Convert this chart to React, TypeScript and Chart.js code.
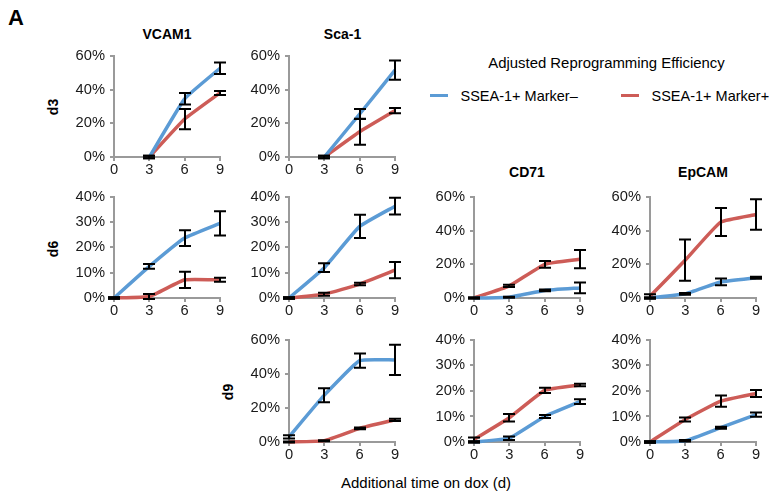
import React, { useEffect, useRef } from "react";
import { Chart, registerables } from "chart.js";

Chart.register(...registerables);

// ---------- data ----------
const days = [0, 3, 6, 9];
const seriesNames = ["SSEA-1+ Marker–", "SSEA-1+ Marker+"];
const legendTitle = "Adjusted Reprogramming Efficiency";
const xAxisTitle = "Additional time on dox (d)";
const markerTitles = ["VCAM1", "Sca-1", "CD71", "EpCAM"];
const rowLabels = ["d3", "d6", "d9"];

// d3
const vcam1D3Neg = [null, 0, 34.5, 52.6];
const vcam1D3NegErr = [0, 0.8, 3.4, 3.4];
const vcam1D3Pos = [null, 0, 22.5, 38];
const vcam1D3PosErr = [0, 0.8, 6, 1.2];

const sca1D3Neg = [null, 0, 25.5, 51.5];
const sca1D3NegErr = [0, 0.8, 3, 5.7];
const sca1D3Pos = [null, 0, 15, 27.5];
const sca1D3PosErr = [0, 0.8, 7.7, 1.5];

// d6
const vcam1D6Neg = [0, 12.5, 23.7, 29.5];
const vcam1D6NegErr = [0.3, 0.9, 3.1, 4.8];
const vcam1D6Pos = [0, 0.6, 7.2, 7.2];
const vcam1D6PosErr = [0.3, 1.0, 3.2, 0.8];

const sca1D6Neg = [0, 12, 28.3, 36.3];
const sca1D6NegErr = [0.3, 1.7, 4.6, 3.3];
const sca1D6Pos = [0, 1.5, 5.5, 11];
const sca1D6PosErr = [0.3, 0.6, 0.5, 3.2];

const cd71D6Neg = [0, 0.5, 4.5, 6];
const cd71D6NegErr = [0.3, 0.3, 0.5, 3.2];
const cd71D6Pos = [0, 7.2, 20, 23];
const cd71D6PosErr = [0.3, 0.7, 2, 5.4];

const epcamD6Neg = [0, 2.5, 9.5, 12];
const epcamD6NegErr = [0.5, 0.5, 2, 0.6];
const epcamD6Pos = [1, 22.5, 45, 49.5];
const epcamD6PosErr = [1.2, 12.2, 8.3, 9];

// d9
const sca1D9Neg = [3, 27.5, 47.8, 48.2];
const sca1D9NegErr = [1, 4.1, 4.2, 8.9];
const sca1D9Pos = [0, 0.8, 8, 13];
const sca1D9PosErr = [0.3, 0.3, 0.5, 0.7];

const cd71D9Neg = [0, 1.5, 10, 15.8];
const cd71D9NegErr = [0.3, 0.7, 0.6, 0.9];
const cd71D9Pos = [1, 9.5, 20.2, 22.3];
const cd71D9PosErr = [0.8, 1.5, 1, 0.5];

const epcamD9Neg = [0, 0.5, 5.6, 10.7];
const epcamD9NegErr = [0.3, 0.3, 0.4, 0.8];
const epcamD9Pos = [0, 8.8, 16, 19];
const epcamD9PosErr = [0.3, 0.8, 2.2, 1.4];

// ---------- layout / style ----------
const BLUE = "#5B9BD5";
const RED = "#CD5C57";
const AXIS = "#9a9a9a";
const TEXT = "#1a1a1a";
const FONT = "'Liberation Sans', Arial, sans-serif";
const TICK_SIZE = 14.7;

Chart.defaults.font.family = FONT;
Chart.defaults.font.size = TICK_SIZE;
Chart.defaults.color = TEXT;

const colX = [114, 289, 474, 650];
const rowTop = [52, 193, 336];
const PLOT_W = 106;
const PLOT_H = [105, 105, 106];
const Y_W = 50;
const PAD_T = 10;
const PAD_R = 10;
const X_H = 24;

type PanelDef = {
  col: number;
  row: number;
  max: number;
  step: number;
  neg: (number | null)[];
  negErr: number[];
  pos: (number | null)[];
  posErr: number[];
};

const panels: PanelDef[] = [
  { col: 0, row: 0, max: 60, step: 20, neg: vcam1D3Neg, negErr: vcam1D3NegErr, pos: vcam1D3Pos, posErr: vcam1D3PosErr },
  { col: 1, row: 0, max: 60, step: 20, neg: sca1D3Neg, negErr: sca1D3NegErr, pos: sca1D3Pos, posErr: sca1D3PosErr },
  { col: 0, row: 1, max: 40, step: 10, neg: vcam1D6Neg, negErr: vcam1D6NegErr, pos: vcam1D6Pos, posErr: vcam1D6PosErr },
  { col: 1, row: 1, max: 40, step: 10, neg: sca1D6Neg, negErr: sca1D6NegErr, pos: sca1D6Pos, posErr: sca1D6PosErr },
  { col: 2, row: 1, max: 60, step: 20, neg: cd71D6Neg, negErr: cd71D6NegErr, pos: cd71D6Pos, posErr: cd71D6PosErr },
  { col: 3, row: 1, max: 60, step: 20, neg: epcamD6Neg, negErr: epcamD6NegErr, pos: epcamD6Pos, posErr: epcamD6PosErr },
  { col: 1, row: 2, max: 60, step: 20, neg: sca1D9Neg, negErr: sca1D9NegErr, pos: sca1D9Pos, posErr: sca1D9PosErr },
  { col: 2, row: 2, max: 40, step: 10, neg: cd71D9Neg, negErr: cd71D9NegErr, pos: cd71D9Pos, posErr: cd71D9PosErr },
  { col: 3, row: 2, max: 40, step: 10, neg: epcamD9Neg, negErr: epcamD9NegErr, pos: epcamD9Pos, posErr: epcamD9PosErr },
];

const errorBarPlugin = {
  id: "errorBars",
  afterDatasetsDraw(chart: any) {
    const ctx = chart.ctx;
    const xs = chart.scales.x;
    const ys = chart.scales.y;
    ctx.save();
    ctx.strokeStyle = "#000";
    ctx.lineWidth = 2;
    chart.data.datasets.forEach((ds: any) => {
      const errs: number[] = ds.errors || [];
      ds.data.forEach((pt: any, j: number) => {
        if (pt.y === null || pt.y === undefined) return;
        const e = errs[j] || 0;
        const x = Math.round(xs.getPixelForValue(pt.x));
        const yHi = ys.getPixelForValue(pt.y + e);
        const yLo = ys.getPixelForValue(pt.y - e);
        ctx.beginPath();
        ctx.moveTo(x, yHi);
        ctx.lineTo(x, yLo);
        ctx.moveTo(x - 6, yHi);
        ctx.lineTo(x + 6, yHi);
        ctx.moveTo(x - 6, yLo);
        ctx.lineTo(x + 6, yLo);
        ctx.stroke();
      });
    });
    ctx.restore();
  },
};

function Panel({ p }: { p: PanelDef }) {
  const ref = useRef<HTMLCanvasElement>(null);
  const w = Y_W + PLOT_W + PAD_R;
  const h = PAD_T + PLOT_H[p.row] + X_H;
  useEffect(() => {
    if (!ref.current) return;
    const mk = (vals: (number | null)[], errs: number[], color: string, label: string) => ({
      label,
      data: days.map((d, i) => ({ x: d, y: vals[i] })),
      borderColor: color,
      backgroundColor: color,
      borderWidth: 3.5,
      pointRadius: 0,
      tension: 0.12,
      clip: false,
      errors: errs,
    });
    const font = { family: FONT, size: TICK_SIZE };
    const chart = new Chart(ref.current, {
      type: "line",
      data: {
        datasets: [
          mk(p.neg, p.negErr, BLUE, seriesNames[0]) as any,
          mk(p.pos, p.posErr, RED, seriesNames[1]) as any,
        ],
      },
      options: {
        responsive: false,
        animation: false,
        events: [],
        layout: { padding: { top: PAD_T, right: PAD_R, left: 0, bottom: 0 } },
        plugins: { legend: { display: false }, tooltip: { enabled: false } },
        scales: {
          x: {
            type: "linear",
            min: 0,
            max: 9,
            ticks: { stepSize: 3, font, color: TEXT, padding: 0, maxRotation: 0 },
            grid: { display: true, drawOnChartArea: false, drawTicks: true, tickLength: 4, color: AXIS, lineWidth: 2 },
            border: { display: true, color: AXIS, width: 2 },
            afterFit(s: any) {
              s.height = X_H;
            },
          },
          y: {
            min: 0,
            max: p.max,
            ticks: { stepSize: p.step, font, color: TEXT, padding: 5, callback: (v: any) => v + "%" },
            grid: { display: true, drawOnChartArea: false, drawTicks: true, tickLength: 4, color: AXIS, lineWidth: 2 },
            border: { display: true, color: AXIS, width: 2 },
            afterFit(s: any) {
              s.width = Y_W;
            },
          },
        },
      } as any,
      plugins: [errorBarPlugin],
    });
    return () => chart.destroy();
  }, []);
  return (
    <canvas
      ref={ref}
      width={w}
      height={h}
      style={{ position: "absolute", left: colX[p.col] - Y_W, top: rowTop[p.row] - PAD_T, width: w, height: h }}
    />
  );
}

const textBase: React.CSSProperties = {
  position: "absolute",
  fontFamily: FONT,
  color: "#000",
  lineHeight: 1,
  whiteSpace: "nowrap",
  transform: "translate(-50%, -50%)",
};

export default function App() {
  const titlePos = [
    { x: 167, y: 33.5 },
    { x: 342.5, y: 33.5 },
    { x: 527, y: 172 },
    { x: 703, y: 172 },
  ];
  const rowLabelPos = [
    { x: 53, y: 107 },
    { x: 53, y: 249 },
    { x: 228, y: 392 },
  ];
  return (
    <div style={{ position: "fixed", left: 0, top: 0, width: 771, height: 494, background: "#fff", overflow: "hidden" }}>
      <div style={{ ...textBase, left: 16, top: 18, fontSize: 22, fontWeight: "bold" }}>A</div>
      {markerTitles.map((t, i) => (
        <div key={t} style={{ ...textBase, left: titlePos[i].x, top: titlePos[i].y, fontSize: 14, fontWeight: "bold" }}>
          {t}
        </div>
      ))}
      {rowLabels.map((t, i) => (
        <div
          key={t}
          style={{
            ...textBase,
            left: rowLabelPos[i].x,
            top: rowLabelPos[i].y,
            fontSize: 14,
            fontWeight: "bold",
            transform: "translate(-50%, -50%) rotate(-90deg)",
          }}
        >
          {t}
        </div>
      ))}
      {panels.map((p, i) => (
        <Panel key={i} p={p} />
      ))}
      <div style={{ ...textBase, left: 606.5, top: 62.5, fontSize: 14.9 }}>{legendTitle}</div>
      <div style={{ position: "absolute", left: 430, top: 93.5, width: 18, height: 3.5, background: BLUE }} />
      <div style={{ ...textBase, left: 460.5, top: 95.5, fontSize: 14.5, transform: "translate(0, -50%)" }}>{seriesNames[0]}</div>
      <div style={{ position: "absolute", left: 621, top: 93.5, width: 18, height: 3.5, background: RED }} />
      <div style={{ ...textBase, left: 651.5, top: 95.5, fontSize: 14.5, transform: "translate(0, -50%)" }}>{seriesNames[1]}</div>
      <div style={{ ...textBase, left: 426, top: 482, fontSize: 15 }}>{xAxisTitle}</div>
    </div>
  );
}
